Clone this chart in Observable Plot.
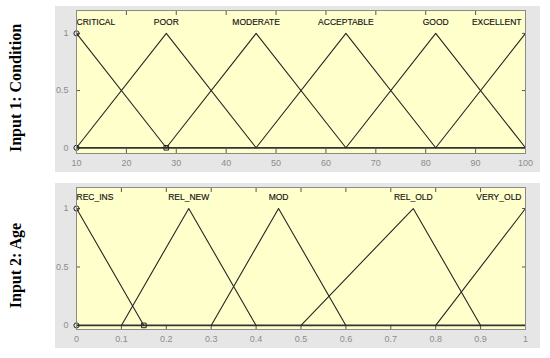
<!DOCTYPE html>
<html>
<head>
<meta charset="utf-8">
<script src="https://cdn.jsdelivr.net/npm/d3@7"></script>
<script src="https://cdn.jsdelivr.net/npm/@observablehq/plot@0.6"></script>
<style>
  html, body { margin: 0; padding: 0; background: #fff; }
  #root { position: relative; width: 550px; height: 358px; overflow: hidden; }
  .bg { position: absolute; background: #e6e6e6; }
  .panel { position: absolute; left: 0; }
  svg { background: transparent !important; overflow: visible; }
</style>
</head>
<body>
<div id="root">
  <div class="bg" style="left:55px; top:6px; width:485px; height:166px;"></div>
  <div class="bg" style="left:55px; top:183px; width:485px; height:165px;"></div>
  <div class="panel" id="p1" style="top:0px;"></div>
  <div class="panel" id="p2" style="top:175px;"></div>
</div>
<script>
// ---- Data: Input 1 (Condition) ----
const condTitle = "Input 1: Condition";
const condDomain = [10, 100];
const condTicks = [10, 20, 30, 40, 50, 60, 70, 80, 90, 100];
const condTerms = ["CRITICAL", "POOR", "MODERATE", "ACCEPTABLE", "GOOD", "EXCELLENT"];
const condA = [-8, 10, 28, 46, 64, 82];
const condB = [10, 28, 46, 64, 82, 100];
const condC = [28, 46, 64, 82, 100, 118];

// ---- Data: Input 2 (Age) ----
const ageTitle = "Input 2: Age";
const ageDomain = [0, 1];
const ageTicks = [0, 0.1, 0.2, 0.3, 0.4, 0.5, 0.6, 0.7, 0.8, 0.9, 1];
const ageTerms = ["REC_INS", "REL_NEW", "MOD", "REL_OLD", "VERY_OLD"];
const ageA = [-0.15, 0.1, 0.3, 0.5, 0.8];
const ageB = [0, 0.25, 0.45, 0.75, 1];
const ageC = [0.15, 0.4, 0.6, 0.9, 1.2];

const yTicks = [0, 0.5, 1];
const labelLevel = 1.1;

function trimf(x, a, b, c) {
  if (x <= a || x >= c) return x === b ? 1 : 0;
  return x <= b ? (x - a) / (b - a) : (c - x) / (c - b);
}

function buildLines(terms, A, B, C, domain) {
  const rows = [];
  terms.forEach((t, i) => {
    const xs = [A[i], B[i], C[i]].map(v => Math.max(domain[0], Math.min(domain[1], v)));
    const uniq = [...new Set(xs)];
    uniq.forEach(x => rows.push({term: t, x, y: trimf(x, A[i], B[i], C[i])}));
  });
  return rows;
}

function buildLabels(terms, B, domain) {
  return terms.map((t, i) => ({
    term: t, x: B[i], y: labelLevel,
    anchor: B[i] <= domain[0] ? "start" : B[i] >= domain[1] ? "end" : "middle"
  }));
}

function panel({title, domain, ticks, terms, A, B, C, yDomain, height, marginTop, marginBottom, fmt, titleDy}) {
  const lines = buildLines(terms, A, B, C, domain);
  const labels = buildLabels(terms, B, domain);
  const sel = [
    {x: domain[0], y: trimf(domain[0], A[0], B[0], C[0]), s: "circle"},
    {x: domain[0], y: 0, s: "circle"},
    {x: C[0], y: 0, s: "square"}
  ];
  const tickColor = "#555";
  const labelStyle = {x: "x", y: "y", text: "term", fontSize: 8.5, fill: "#111", stroke: "#111", strokeWidth: 0.15};
  return Plot.plot({
    width: 550,
    height,
    marginLeft: 76,
    marginRight: 25,
    marginTop,
    marginBottom,
    style: {background: "transparent", fontFamily: "Liberation Sans, Arial, sans-serif", overflow: "visible"},
    x: {domain, ticks},
    y: {domain: yDomain, ticks: yTicks},
    marks: [
      Plot.frame({fill: "#ffffcc", stroke: "none"}),
      Plot.axisX({anchor: "bottom", ticks, tickSize: 0, tickPadding: 6, tickFormat: fmt, fontSize: 9, color: "#8c8c8c", label: null}),
      Plot.axisX({anchor: "bottom", ticks, tickSize: -4, tickFormat: () => "", stroke: tickColor, label: null}),
      Plot.axisX({anchor: "top", ticks, tickSize: -4, tickFormat: () => "", stroke: tickColor, label: null}),
      Plot.axisY({anchor: "left", ticks: yTicks, tickSize: 0, tickPadding: 8, tickFormat: d => String(d), fontSize: 9, color: "#8c8c8c", label: null}),
      Plot.axisY({anchor: "left", ticks: yTicks, tickSize: -4, tickFormat: () => "", stroke: tickColor, label: null}),
      Plot.axisY({anchor: "right", ticks: yTicks, tickSize: -4, tickFormat: () => "", stroke: tickColor, label: null}),
      Plot.ruleY([0], {stroke: "#333", strokeWidth: 1.8}),
      Plot.line(lines, {x: "x", y: "y", z: "term", stroke: "#262626", strokeWidth: 1.1}),
      Plot.dot(sel, {x: "x", y: "y", symbol: "s", r: 2.6, stroke: "#222", strokeWidth: 1, fill: "none"}),
      Plot.text(labels.filter(d => d.anchor === "start"), {...labelStyle, textAnchor: "start"}),
      Plot.text(labels.filter(d => d.anchor === "middle"), {...labelStyle, textAnchor: "middle"}),
      Plot.text(labels.filter(d => d.anchor === "end"), {...labelStyle, textAnchor: "end", dx: -4}),
      Plot.frame({stroke: "#8a8a8a", strokeWidth: 1}),
      Plot.text([title], {frameAnchor: "left", textAnchor: "middle", dx: -61, dy: titleDy, rotate: -90, fontSize: 16, fontWeight: "bold",
        fontFamily: "Liberation Serif, 'DejaVu Serif', serif", fill: "#000"})
    ]
  });
}

document.getElementById("p1").appendChild(panel({
  title: condTitle, domain: condDomain, ticks: condTicks, terms: condTerms,
  A: condA, B: condB, C: condC, yDomain: [-0.05, 1.2], height: 175,
  marginTop: 10, marginBottom: 22, fmt: d => String(d), titleDy: 6
}));
document.getElementById("p2").appendChild(panel({
  title: ageTitle, domain: ageDomain, ticks: ageTicks, terms: ageTerms,
  A: ageA, B: ageB, C: ageC, yDomain: [-0.035, 1.18], height: 183,
  marginTop: 12, marginBottom: 29, fmt: d => String(d), titleDy: 7
}));
</script>
</body>
</html>
